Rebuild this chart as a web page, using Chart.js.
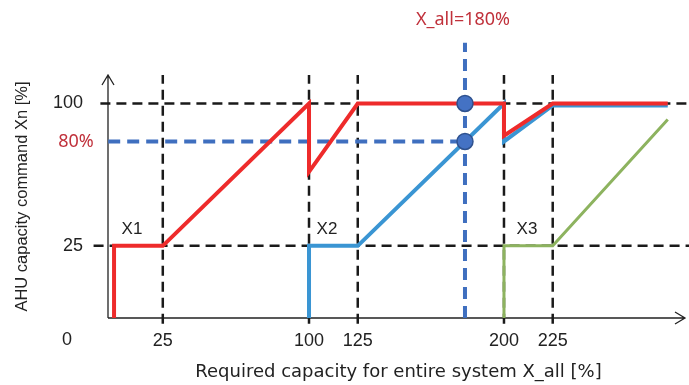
<html>
<script src="https://cdn.jsdelivr.net/npm/chart.js@4/dist/chart.umd.min.js"></script>
<body style="margin:0;background:#fff">
<canvas id="myChart" width="689" height="385"></canvas>
<script>
// schematic values, x = X_all [%], y = Xn [%]
const xTicks = [25, 100, 125, 200, 225];
const yTicks = [25, 100];
const x1X = [0, 0, 25, 100, 100, 125, 200, 200, 225, 284];
const x1Y = [-13, 25, 25, 100, 64, 100, 100, 83, 100, 100];
const x2X = [100, 100, 125, 200, 200, 225, 284];
const x2Y = [-13, 25, 25, 100, 80, 99, 99];
const x3X = [200, 200, 225, 284];
const x3Y = [-13, 25, 25, 91.5];
const xAll = 180;
const pointY = [100, 80];
const unitLabels = ["X1", "X2", "X3"];

function pts(xs, ys) { return xs.map((x, i) => ({x: x, y: ys[i]})) }

const black = "#1a1a1a";
const dashBlack = {borderColor: black, borderWidth: 2.5, borderDash: [10, 6], pointRadius: 0, clip: false, order: 10, fill: false};

let guides = [];
xTicks.forEach(v => guides.push(Object.assign({data: [{x: v, y: -16}, {x: v, y: 115}]}, dashBlack)));
guides.push(Object.assign({data: [{x: -7, y: 100}, {x: 295, y: 100}]}, dashBlack));
guides.push(Object.assign({data: [{x: -10.5, y: 25}, {x: 295, y: 25}]}, dashBlack));

const dashBlue = {borderColor: "#3f6fbf", borderWidth: 4, borderDash: [12, 7], pointRadius: 0, clip: false, order: 5, fill: false};

const extras = {
    id: "extras",
    beforeDatasetsDraw(chart) {
        const c = chart.ctx, a = chart.chartArea;
        c.save();
        c.strokeStyle = "#222";
        c.lineWidth = 1.3;
        c.beginPath();
        c.moveTo(a.left, a.bottom); c.lineTo(a.left, a.top);
        c.moveTo(a.left - 6, a.top + 10); c.lineTo(a.left, a.top); c.lineTo(a.left + 6, a.top + 10);
        c.moveTo(a.left, a.bottom); c.lineTo(685, a.bottom);
        c.moveTo(675, a.bottom - 6); c.lineTo(685, a.bottom); c.lineTo(675, a.bottom + 6);
        c.stroke();
        c.restore();
    },
    afterDraw(chart) {
        const c = chart.ctx, x = chart.scales.x, y = chart.scales.y;
        c.save();
        c.textAlign = "center";
        c.textBaseline = "middle";
        c.fillStyle = "#222";
        c.font = "18px 'Liberation Sans'";
        c.fillText("0", 67, 340);
        c.font = "17px 'Liberation Sans'";
        const lx = [132, 327, 527];
        unitLabels.forEach((t, i) => c.fillText(t, lx[i], 229));
        c.fillStyle = "#c0313b";
        c.font = "18px 'Noto Sans'";
        c.fillText("80%", 76, y.getPixelForValue(80));
        c.fillText("X_all=" + xAll + "%", x.getPixelForValue(xAll) - 2, 20);
        c.restore();
    }
};

new Chart("myChart", {
    type: "line",
    data: {
        datasets: guides.concat([
            Object.assign({data: [{x: -3, y: 80}, {x: xAll, y: 80}]}, dashBlue),
            Object.assign({data: [{x: xAll, y: -13}, {x: xAll, y: 132}]}, dashBlue),
            {data: pts(x3X, x3Y), borderColor: "#8db35f", borderWidth: 3, pointRadius: 0, clip: false, order: 4},
            {data: pts(x2X, x2Y), borderColor: "#3a95d3", borderWidth: 4, pointRadius: 0, clip: false, order: 3},
            {data: pts(x1X, x1Y), borderColor: "#ee2b2b", borderWidth: 4, pointRadius: 0, clip: false, order: 2},
            {data: pointY.map(v => ({x: xAll, y: v})), showLine: false, pointRadius: 8, pointBackgroundColor: "#4472c4",
             pointBorderColor: "#2f528f", pointBorderWidth: 1.5, clip: false, order: 1}
        ])
    },
    options: {
        responsive: false,
        animation: false,
        events: [],
        layout: {autoPadding: false, padding: {top: 75, right: 0, left: 0, bottom: 0}},
        plugins: {legend: {display: false}, tooltip: {enabled: false}},
        elements: {line: {tension: 0}},
        scales: {
            x: {
                type: "linear", min: -3.1, max: 294.9,
                grid: {display: false, drawTicks: false},
                border: {display: false},
                afterBuildTicks: s => { s.ticks = xTicks.map(v => ({value: v})) },
                afterFit: s => { s.height = 67; s.paddingLeft = 0; s.paddingRight = 0 },
                ticks: {color: "#222", font: {family: "Liberation Sans", size: 18}, padding: 12, maxRotation: 0, autoSkip: false},
                title: {display: true, text: "Required capacity for entire system X_all [%]", color: "#222",
                        font: {family: "DejaVu Sans", size: 18}, padding: {top: 0, bottom: 2}}
            },
            y: {
                type: "linear", min: -13, max: 115,
                grid: {display: false, drawTicks: false},
                border: {display: false},
                afterBuildTicks: s => { s.ticks = yTicks.map(v => ({value: v})) },
                afterFit: s => { s.width = 108; s.paddingTop = 0; s.paddingBottom = 0 },
                ticks: {color: "#222", font: {family: "Liberation Sans", size: 18}, padding: 25},
                title: {display: true, text: "AHU capacity command Xn [%]", color: "#222",
                        font: {family: "Liberation Sans", size: 16.5}, padding: {top: 13, bottom: 0}}
            }
        }
    },
    plugins: [extras]
});
</script>
</body>
</html>
